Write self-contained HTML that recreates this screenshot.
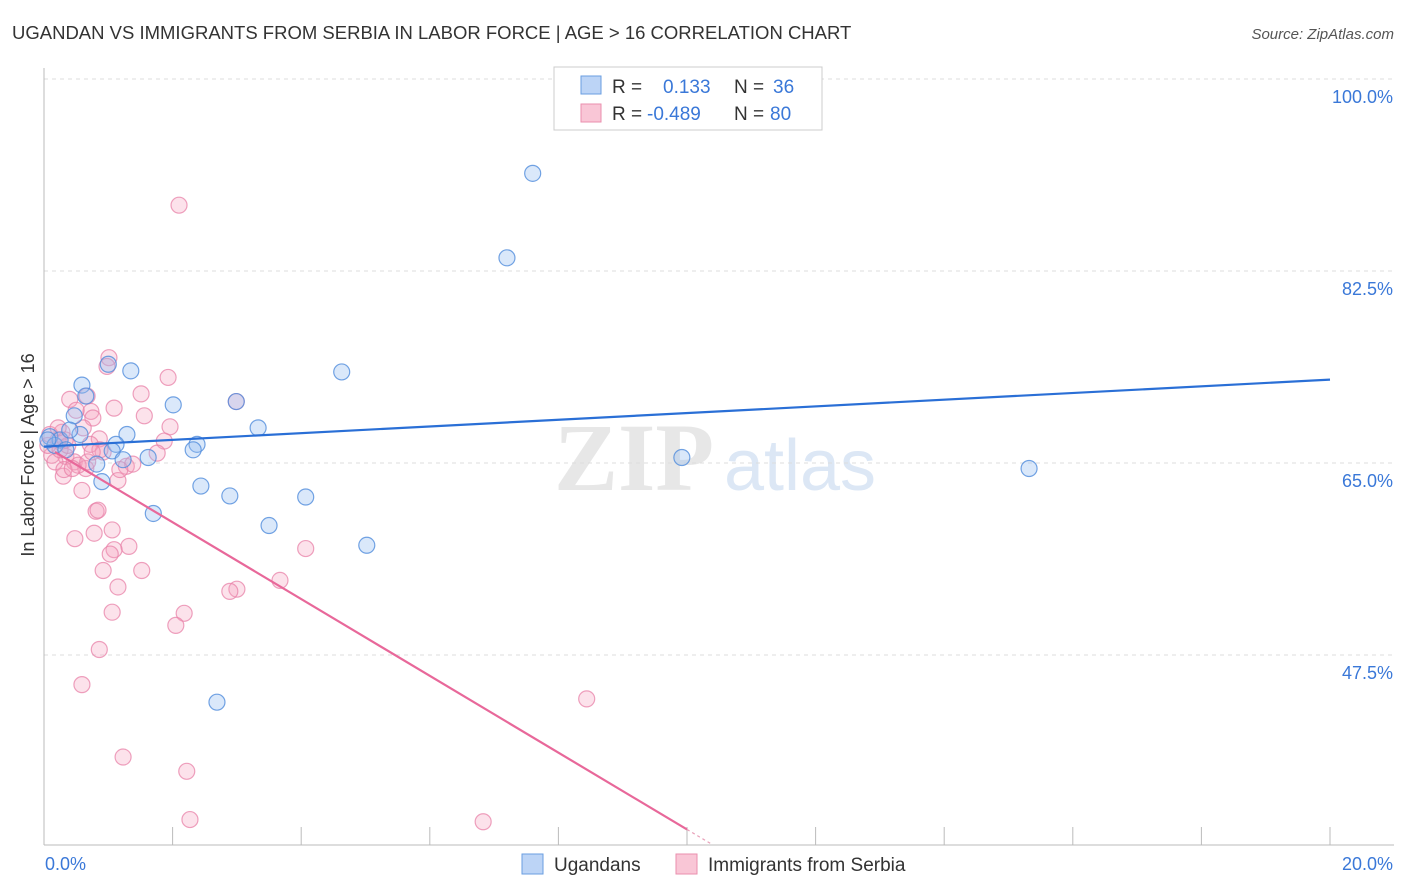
<!DOCTYPE html>
<html><head><meta charset="utf-8"><style>
body{margin:0;background:#fff;font-family:"Liberation Sans",sans-serif;}
svg{display:block}
</style></head><body>
<svg id="chart" width="1406" height="892">
<text x="12" y="39" font-size="18.5" fill="#333">UGANDAN VS IMMIGRANTS FROM SERBIA IN LABOR FORCE | AGE &gt; 16 CORRELATION CHART</text>
<text x="1394" y="39" font-size="15" fill="#555" font-style="italic" text-anchor="end">Source: ZipAtlas.com</text>
<g>
<text x="634" y="490" font-size="96" fill="#d8d8d8" font-family="Liberation Serif" text-anchor="middle" font-weight="bold" opacity="0.6">ZIP</text>
<text x="800" y="490" font-size="72" fill="#c5d8f0" text-anchor="middle" opacity="0.6">atlas</text>
</g>
<g id="grid"></g>
<g id="axes"></g>
<g id="marks"></g>
<text transform="translate(34,455) rotate(-90)" font-size="18" fill="#333" text-anchor="middle">In Labor Force | Age &gt; 16</text>
<g>
<rect x="554" y="67" width="268" height="63" fill="#fff" stroke="#ccc"/>
<rect x="581" y="76" width="20" height="18" fill="#bcd4f6" stroke="#6a9ee0"/>
<rect x="581" y="104" width="20" height="18" fill="#f9c6d6" stroke="#ea8fae"/>
<text x="612" y="93" font-size="19" fill="#333">R = </text><text x="663" y="93" font-size="19" fill="#3a78d8">0.133</text>
<text x="734" y="93" font-size="19" fill="#333">N = </text><text x="773" y="93" font-size="19" fill="#3a78d8">36</text>
<text x="612" y="120" font-size="19" fill="#333">R = </text><text x="647" y="120" font-size="19" fill="#3a78d8">-0.489</text>
<text x="734" y="120" font-size="19" fill="#333">N = </text><text x="770" y="120" font-size="19" fill="#3a78d8">80</text>
</g>
<g>
<rect x="522" y="854" width="21" height="20" fill="#bcd4f6" stroke="#6a9ee0"/>
<text x="554" y="871" font-size="19" fill="#333">Ugandans</text>
<rect x="676" y="854" width="21" height="20" fill="#f9c6d6" stroke="#ea8fae"/>
<text x="708" y="871" font-size="19" fill="#333">Immigrants from Serbia</text>
</g>
</svg>
<script>
const yTicks=[100,82.5,65,47.5];
const yTickLabels=["100.0%","82.5%","65.0%","47.5%"];
const xTicks=[0,2,4,6,8,10,12,14,16,18,20];
const xEndLabels=["0.0%","20.0%"];
const blueX=[7.60,7.20,4.63,1.35,1.00,0.59,0.65,2.01,2.99,0.47,3.33,1.29,1.12,1.06,0.56,2.38,2.32,1.62,1.23,0.82,9.92,15.32,2.44,2.89,4.07,0.90,1.70,3.50,5.02,2.69,0.09,0.17,0.25,0.34,0.06,0.40];
const blueY=[91.4,83.7,73.3,73.4,74.0,72.1,71.1,70.3,70.6,69.3,68.2,67.6,66.7,66.1,67.6,66.7,66.2,65.5,65.3,64.9,65.5,64.5,62.9,62.0,61.9,63.3,60.4,59.3,57.5,43.2,67.4,66.6,67.1,66.2,67.1,68.0];
const pinkX=[2.10,1.01,0.98,1.93,2.99,1.51,0.67,0.40,1.09,1.56,0.73,0.50,0.76,1.96,0.61,0.28,0.22,1.87,0.86,0.72,0.92,1.76,0.34,0.47,0.65,1.28,1.38,0.30,1.15,0.59,0.81,0.84,1.06,0.78,0.48,1.32,1.09,4.07,1.03,1.52,0.92,3.67,1.15,3.00,2.89,2.18,1.06,2.05,0.86,0.59,8.44,1.23,2.22,2.27,6.83,0.12,0.17,0.06,0.25,0.37,0.53,0.87,0.09,0.22,0.31,0.44,0.68,0.75,1.18,0.33];
const pinkY=[88.5,74.6,73.8,72.8,70.6,71.3,71.1,70.8,70.0,69.3,69.7,69.8,69.1,68.3,68.2,67.8,67.1,67.0,67.2,66.7,66.0,65.9,65.6,65.1,64.5,64.7,64.9,63.8,63.4,62.5,60.6,60.7,58.9,58.6,58.1,57.4,57.1,57.2,56.7,55.2,55.2,54.3,53.7,53.5,53.3,51.3,51.4,50.2,48.0,44.8,43.5,38.2,36.9,32.5,32.3,65.7,65.1,66.6,66.2,66.6,64.8,66.2,67.6,68.2,64.4,64.5,65.1,66.0,64.4,67.1];
const blueTrend=[66.5,72.6];
const pinkTrend=[66.6,-3.5];
const X0=44,X1=1330,YT=79,YB=845;
const sx=v=>X0+(v-0)/20*(X1-X0);
const sy=v=>YT+(100-v)/17.5*192;
const NS="http://www.w3.org/2000/svg";
function mk(tag,attrs,parent){const e=document.createElementNS(NS,tag);for(const k in attrs)e.setAttribute(k,attrs[k]);parent.appendChild(e);return e;}
const grid=document.getElementById('grid'),axes=document.getElementById('axes'),marks=document.getElementById('marks'),svg=document.getElementById('chart');
yTicks.forEach((t,i)=>{
 const l=mk('line',{x1:X0,x2:1394,y1:sy(t),y2:sy(t),stroke:'#ddd','stroke-dasharray':'4,4'},grid);
 
 
 const tx=mk('text',{x:1393,y:sy(t)+24,'font-size':18,fill:'#3a78d8','text-anchor':'end'},axes);
 tx.textContent=yTickLabels[i];
 
 
});
let a=mk('line',{x1:X0,x2:X0,y1:68,y2:YB,stroke:'#bbb'},axes);


a=mk('line',{x1:X0,x2:1394,y1:YB,y2:YB,stroke:'#bbb'},axes);


xTicks.forEach(t=>{
 const l=mk('line',{x1:sx(t),x2:sx(t),y1:YB,y2:827,stroke:'#bbb'},axes);
 
 
});
[[0,'start',45],[20,'end',1393]].forEach((d,i)=>{
 const tx=mk('text',{x:d[2],y:870,'font-size':18,fill:'#3a78d8','text-anchor':d[1]},axes);
 tx.textContent=xEndLabels[i];
 
 
});
pinkX.forEach((x,i)=>{
 const c=mk('circle',{cx:sx(x),cy:sy(pinkY[i]),r:8,fill:'rgba(244,160,190,0.3)',stroke:'rgba(232,130,168,0.75)','stroke-width':1.2},marks);
 
 
});
blueX.forEach((x,i)=>{
 const c=mk('circle',{cx:sx(x),cy:sy(blueY[i]),r:8,fill:'rgba(150,190,240,0.35)',stroke:'rgba(80,140,220,0.8)','stroke-width':1.2},marks);
 
 
});
let t=mk('line',{x1:sx(0),y1:sy(blueTrend[0]),x2:sx(20),y2:sy(blueTrend[1]),stroke:'#2a6fd6','stroke-width':2.2},marks);


const pEnd=10.0, pBottom=(30.2-pinkTrend[0])/pinkTrend[1];
t=mk('line',{x1:sx(0.17),y1:sy(pinkTrend[0]+pinkTrend[1]*0.17),x2:sx(pEnd),y2:sy(pinkTrend[0]+pinkTrend[1]*pEnd),stroke:'#e8689a','stroke-width':2.2},marks);


t=mk('line',{x1:sx(pEnd),y1:sy(pinkTrend[0]+pinkTrend[1]*pEnd),x2:sx(pBottom),y2:sy(30.2),stroke:'#e8a0b8','stroke-width':1.2,'stroke-dasharray':'3,3'},marks);


</script>
</body></html>
